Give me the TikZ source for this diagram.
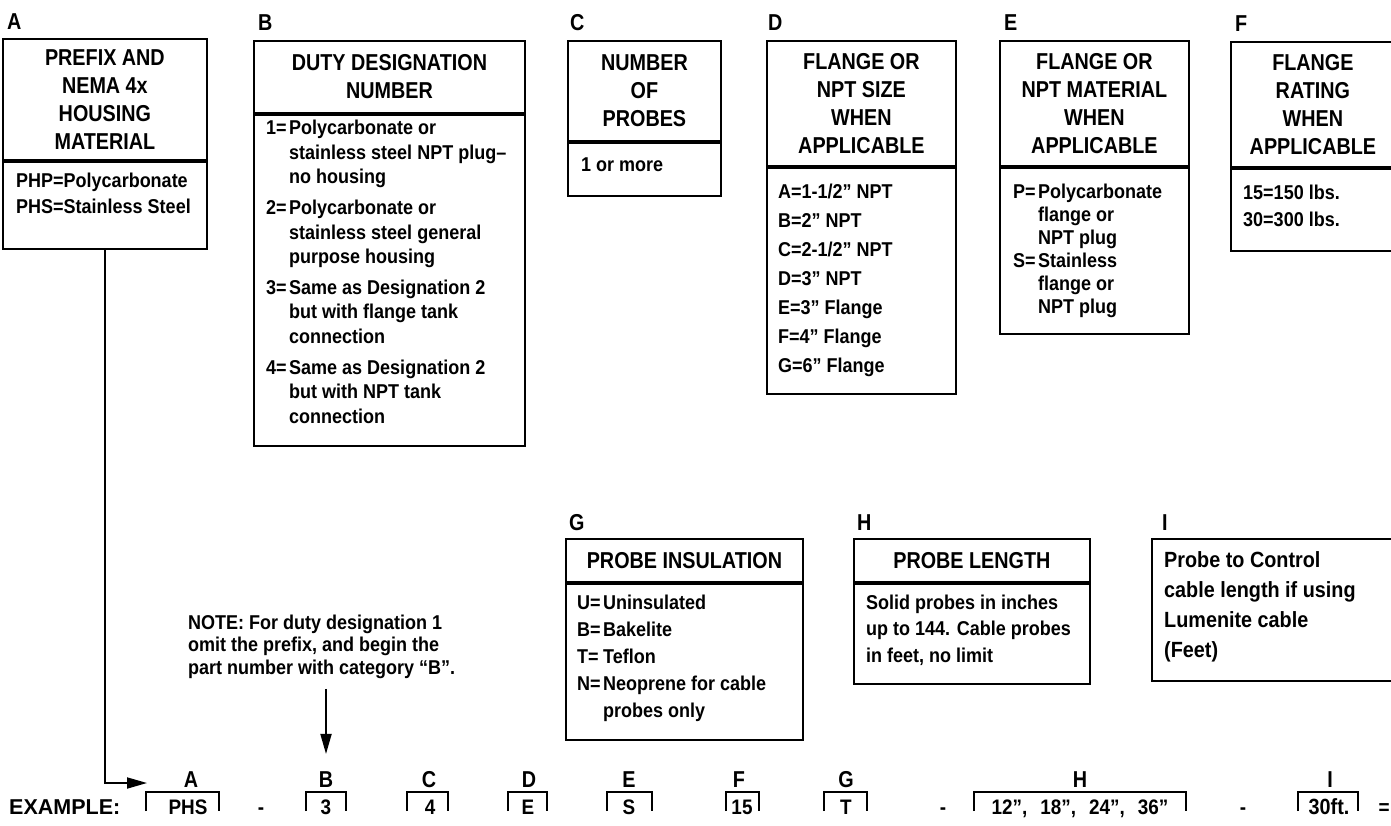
\documentclass[tikz,border=0pt]{standalone}
\usepackage{fontspec}
\setmainfont{Liberation Sans}
\newfontfamily\hdf{Liberation Sans}[FakeStretch=0.86]
\newfontfamily\bdf{Liberation Sans}[FakeStretch=0.9]
\usetikzlibrary{arrows.meta,calc}
\newcommand\bodytab[2]{{\fontsize{20}{#1}\selectfont\begin{tabular}[t]{@{}l@{}}#2\end{tabular}}}
\newcommand\hangtab[3]{{\fontsize{20}{#1}\selectfont\begin{tabular}[t]{@{}p{#2}@{}l@{}}#3\end{tabular}}}
\tikzset{
  frame/.style={draw, line width=1.8pt, inner sep=0pt, anchor=north west},
  hdr/.style={frame, align=center, font=\hdf\bfseries\fontsize{23}{28}\selectfont},
  lbl/.style={anchor=base west, inner sep=0pt, font=\hdf\bfseries\fontsize{23}{28}\selectfont},
  bodytxt/.style={anchor=base west, inner sep=0pt, font=\bdf\bfseries\fontsize{20}{24.5}\selectfont},
  conn/.style={line width=1.8pt, -{Triangle[length=20pt,width=11pt]}},
  brk/.style={line width=1.8pt},
  exlet/.style={anchor=base, inner sep=0pt, font=\hdf\bfseries\fontsize{23}{28}\selectfont},
  exval/.style={anchor=base, inner sep=0pt, font=\bdf\bfseries\fontsize{21}{25}\selectfont},
}
\begin{document}
\begin{tikzpicture}[x=1pt,y=-1pt]
\useasboundingbox (0,0) rectangle (1391,826);
% ---------- A
\node[lbl] (LA) at (7,30) {A};
\node[hdr, minimum width=204pt, minimum height=121pt] (Ah) at (2,38) {PREFIX AND\\NEMA 4x\\HOUSING\\MATERIAL};
\node[frame, minimum width=204pt, minimum height=87pt] (Ab) at (Ah.south west) {};
\node[bodytxt] (At) at (16,188) {\bodytab{26}{PHP=Polycarbonate\\PHS=Stainless Steel}};
% ---------- B
\node[lbl] (LB) at (258,31) {B};
\node[hdr, minimum width=271pt, minimum height=72pt] (Bh) at (253,40) {DUTY DESIGNATION\\NUMBER};
\node[frame, minimum width=271pt, minimum height=331pt] (Bb) at (Bh.south west) {};
\node[bodytxt] (Bt) at (266,135) {\hangtab{24.5}{23pt}{1=&Polycarbonate or\\&stainless steel NPT plug–\\&no housing\\[6.5pt]
2=&Polycarbonate or\\&stainless steel general\\&purpose housing\\[6pt]
3=&Same as Designation 2\\&but with flange tank\\&connection\\[6.5pt]
4=&Same as Designation 2\\&but with NPT tank\\&connection}};
% ---------- C
\node[lbl] (LC) at (570,31) {C};
\node[hdr, minimum width=153pt, minimum height=100pt] (Ch) at (567,40) {NUMBER\\OF\\PROBES};
\node[frame, minimum width=153pt, minimum height=53pt] (Cb) at (Ch.south west) {};
\node[bodytxt] (Ct) at (581,172) {1 or more};
% ---------- D
\node[lbl] (LD) at (768,31) {D};
\node[hdr, minimum width=189pt, minimum height=125pt] (Dh) at (766,40) {FLANGE OR\\NPT SIZE\\WHEN\\APPLICABLE};
\node[frame, minimum width=189pt, minimum height=226pt] (Db) at (Dh.south west) {};
\node[bodytxt] (Dt) at (778,199) {\bodytab{29}{A=1-1/2” NPT\\B=2” NPT\\C=2-1/2” NPT\\D=3” NPT\\E=3” Flange\\F=4” Flange\\G=6” Flange}};
% ---------- E
\node[lbl] (LE) at (1004,31) {E};
\node[hdr, minimum width=189pt, minimum height=125pt] (Eh) at (999,40) {FLANGE OR\\NPT MATERIAL\\WHEN\\APPLICABLE};
\node[frame, minimum width=189pt, minimum height=166pt] (Eb) at (Eh.south west) {};
\node[bodytxt] (Et) at (1013,199) {\hangtab{23}{25pt}{P=&Polycarbonate\\&flange or\\&NPT plug\\S=&Stainless\\&flange or\\&NPT plug}};
% ---------- F
\node[lbl] (LF) at (1235,32) {F};
\node[hdr, minimum width=164pt, minimum height=125pt] (Fh) at (1230,41) {FLANGE\\RATING\\WHEN\\APPLICABLE};
\node[frame, minimum width=164pt, minimum height=82pt] (Fb) at (Fh.south west) {};
\node[bodytxt] (Ft) at (1243,200) {\bodytab{27}{15=150 lbs.\\30=300 lbs.}};
% ---------- G
\node[lbl] (LG) at (569,530) {G};
\node[hdr, minimum width=237pt, minimum height=43pt] (Gh) at (565,538) {PROBE INSULATION};
\node[frame, minimum width=237pt, minimum height=156pt] (Gb) at (Gh.south west) {};
\node[bodytxt] (Gt) at (577,609) {\hangtab{27}{26pt}{U=&Uninsulated\\B=&Bakelite\\T=&Teflon\\N=&Neoprene for cable\\&probes only}};
% ---------- H
\node[lbl] (LH) at (857,530) {H};
\node[hdr, minimum width=236pt, minimum height=43pt] (Hh) at (853,538) {PROBE LENGTH};
\node[frame, minimum width=236pt, minimum height=100pt] (Hb) at (Hh.south west) {};
\node[bodytxt] (Ht) at (866,609) {\bodytab{26.5}{Solid probes in inches\\up to 144. Cable probes\\in feet, no limit}};
% ---------- I
\node[lbl] (LI) at (1162,530) {I};
\node[frame, minimum width=250pt, minimum height=142pt] (Ib) at (1151,538) {};
\node[bodytxt] (It) at (1164,567) {{\fontsize{22}{30}\selectfont\begin{tabular}[t]{@{}l@{}}Probe to Control\\cable length if using\\Lumenite cable\\(Feet)\end{tabular}}};
% ---------- note
\node[bodytxt] (note) at (188,629) {\bodytab{22.5}{NOTE: For duty designation 1\\omit the prefix, and begin the\\part number with category “B”.}};
% ---------- example row
\node[anchor=base west, inner sep=0pt, font=\bfseries\fontsize{21.5}{25}\selectfont] (ex) at (9,814) {EXAMPLE:};
\draw[brk] (146,811) |- (219,792) -- (219,811);
\node[exlet] (xA) at (191,787) {A};
\node[exval] (vA) at (188,814) {PHS};
\node[exval] (d1) at (261,814) {-};
\draw[brk] (306,811) |- (346,792) -- (346,811);
\node[exlet] (xB) at (326,787) {B};
\node[exval] (vB) at (326,814) {3};
\draw[brk] (407,811) |- (448,792) -- (448,811);
\node[exlet] (xC) at (429,787) {C};
\node[exval] (vC) at (430,814) {4};
\draw[brk] (508,811) |- (547,792) -- (547,811);
\node[exlet] (xD) at (529,787) {D};
\node[exval] (vD) at (528,814) {E};
\draw[brk] (607,811) |- (652,792) -- (652,811);
\node[exlet] (xE) at (629,787) {E};
\node[exval] (vE) at (629,814) {S};
\draw[brk] (726,811) |- (759,792) -- (759,811);
\node[exlet] (xF) at (739,787) {F};
\node[exval] (vF) at (742,814) {15};
\draw[brk] (824,811) |- (867,792) -- (867,811);
\node[exlet] (xG) at (846,787) {G};
\node[exval] (vG) at (846,814) {T};
\node[exval] (d2) at (943,814) {-};
\draw[brk] (974,811) |- (1186,792) -- (1186,811);
\node[exlet] (xH) at (1080,787) {H};
\node[exval] (vH) at (1080,814) {12”,\hspace{13pt}18”,\hspace{13pt}24”,\hspace{13pt}36”};
\node[exval] (d3) at (1243,814) {-};
\draw[brk] (1298,811) |- (1358,792) -- (1358,811);
\node[exlet] (xI) at (1330,787) {I};
\node[exval, font=\bdf\bfseries\fontsize{22}{25}\selectfont] (vI) at (1329,814) {30ft.};
\node[exval] (eq) at (1384,814) {=};
% ---------- connectors
\coordinate (arrA) at (147,783);
\draw[conn] (Ab.south) |- (arrA);
\draw[conn] ([yshift=82pt]xB.north) -- ([yshift=17pt]xB.north);
\end{tikzpicture}
\end{document}
